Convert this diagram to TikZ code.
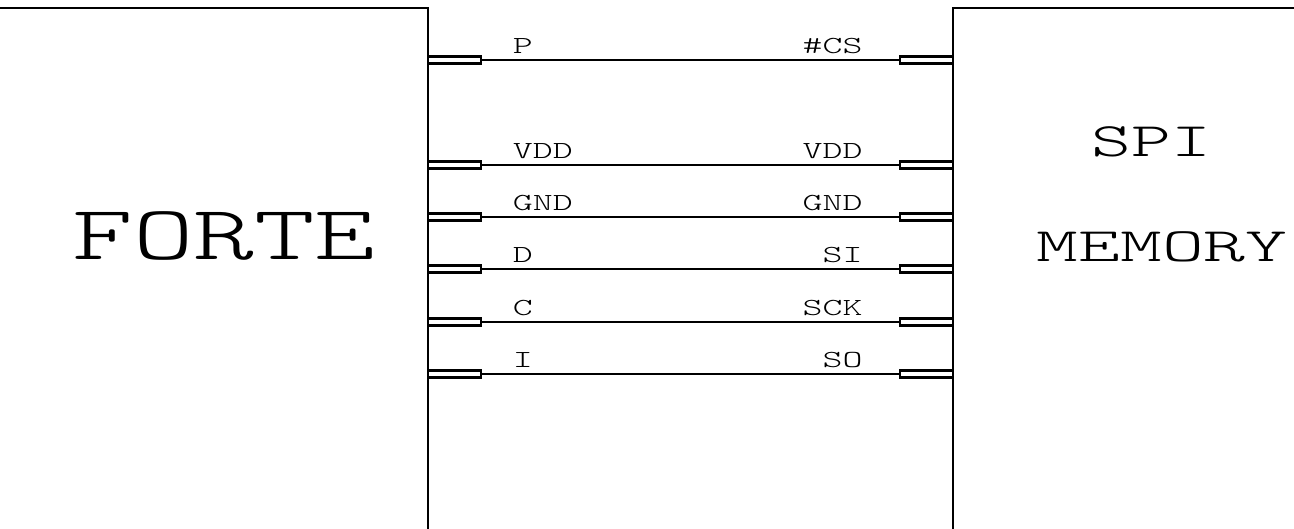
\documentclass[tikz,border=0pt]{standalone}
\usetikzlibrary{positioning}
\tikzset{
pin box/.style={draw,line width=2.2pt,fill=white,minimum width=53pt,minimum height=7pt,inner sep=0pt,outer sep=0pt},
pin label/.style={font=\ttfamily\fontseries{l}\fontsize{24.5}{24.5}\selectfont,xscale=1.55,transform shape,inner sep=0pt},
big label/.style={font=\ttfamily\fontseries{l}\fontsize{77}{77}\selectfont,xscale=1.5,transform shape,inner sep=0pt,anchor=base},
mid label/.style={font=\ttfamily\fontseries{l}\fontsize{48}{48}\selectfont,transform shape,inner sep=0pt,anchor=base},
}
\begin{document}
\begin{tikzpicture}[x=1pt,y=-1pt,line width=1.9pt]
	\useasboundingbox (0,0) rectangle (1294,529);
	\draw (0,8) -- (428,8) -- (428,529);
	\draw (1294,8) -- (953,8) -- (953,529);
	\foreach \y/\ltext/\rtext in {60/P/\#CS,165/VDD/VDD,217/GND/GND,269/D/SI,322/C/SCK,374/I/SO}{
		\node[pin box] (pinL\y) at (454.5,\y) {};
		\node[pin box] (pinR\y) at (926.5,\y) {};
		\draw (pinL\y) -- (pinR\y);
		\node[pin label,anchor=base west] (textL\y) at (511.5,\y-6) {\ltext};
		\node[pin label,anchor=base east] (textR\y) at (864,\y-6) {\rtext};
	}
	\node[big label] (forte) at (224,260) {FORTE};
	\node[mid label,xscale=1.58] (spi) at (1151.5,157) {SPI};
	\node[mid label,xscale=1.66] (memory) at (1162,262) {MEMORY};
\end{tikzpicture}
\end{document}
